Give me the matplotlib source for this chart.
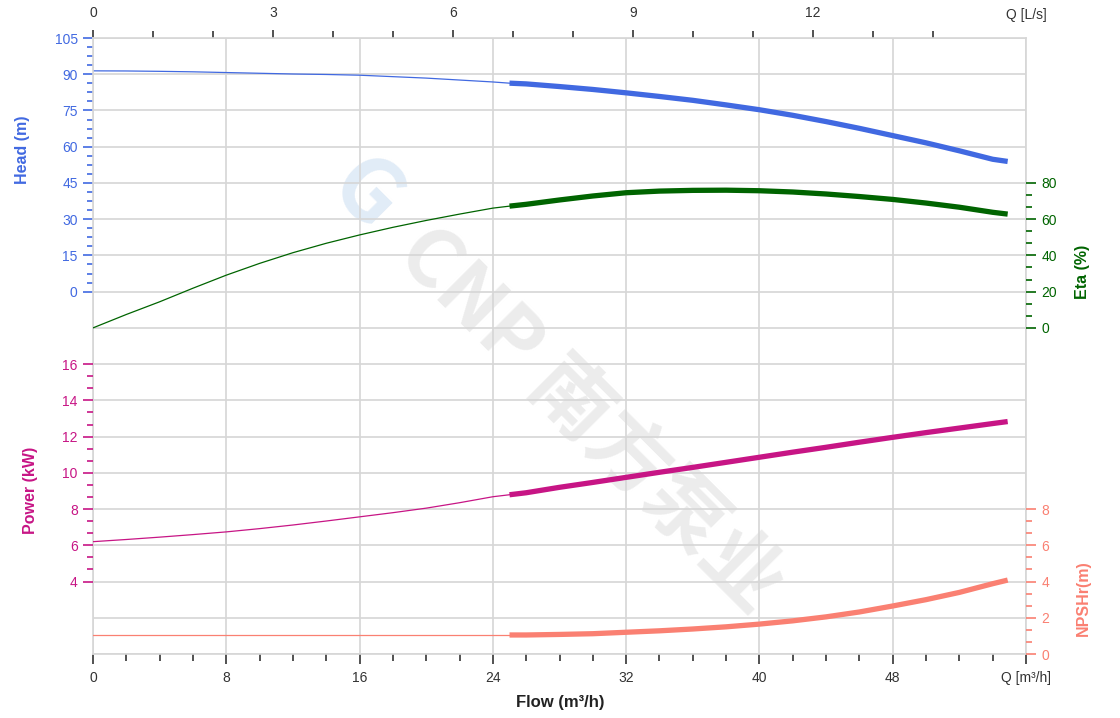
import numpy as np
import matplotlib
matplotlib.use("Agg")
import matplotlib.pyplot as plt

plt.rcParams["font.family"] = ["Liberation Sans", "DejaVu Sans"]

# data (flow in m3/h)
flow = [0, 2, 4, 6, 8, 10, 12, 14, 16, 18, 20, 22, 24, 25, 26, 28, 30,
        32, 34, 36, 38, 40, 42, 44, 46, 48, 50, 52, 54, 54.9]
head = [91.4, 91.35, 91.2, 91.0, 90.7, 90.4, 90.1, 89.9, 89.6, 89.0, 88.4, 87.6, 86.8, 86.3, 86.0, 84.9, 83.7,
        82.3, 80.8, 79.2, 77.3, 75.3, 73.0, 70.4, 67.6, 64.6, 61.6, 58.3, 54.8, 53.9]
eta = [0, 7.4, 14.4, 21.9, 29.1, 35.6, 41.5, 46.7, 51.3, 55.5, 59.3, 62.8, 66.1, 67.2, 68.2, 70.6, 72.8,
       74.6, 75.5, 75.9, 76.0, 75.7, 75.0, 73.9, 72.5, 70.9, 68.9, 66.6, 63.8, 62.8]
power = [6.2, 6.32, 6.45, 6.59, 6.74, 6.92, 7.12, 7.34, 7.57, 7.8, 8.05, 8.35, 8.68, 8.79, 8.9, 9.2, 9.47,
         9.75, 10.03, 10.3, 10.58, 10.86, 11.14, 11.41, 11.69, 11.96, 12.22, 12.47, 12.72, 12.83]
npsh = [1.05, 1.05, 1.05, 1.05, 1.05, 1.05, 1.05, 1.05, 1.05, 1.05, 1.05, 1.05, 1.05, 1.05, 1.05, 1.08, 1.12,
        1.2, 1.28, 1.38, 1.5, 1.65, 1.83, 2.05, 2.32, 2.65, 3.0, 3.4, 3.88, 4.08]
duty_start = 25

flow_ticks = [0, 8, 16, 24, 32, 40, 48, 56]
flow_labels = ["0", "8", "16", "24", "32", "40", "48", "Q [m³/h]"]
ls_ticks = [0, 3, 6, 9, 12]

HEAD_C = "#4169E1"
ETA_C = "#006400"
POWER_C = "#C71585"
NPSH_C = "#FA8072"
GRID_C = "#d6d6d6"

W, H = 1120, 718
fig = plt.figure(figsize=(W / 100, H / 100), dpi=100)
ax = fig.add_axes([93 / W, 1 - 654 / H, (1026 - 93) / W, (654 - 38) / H])
ax.patch.set_visible(False)

q = np.array(flow)
thin = q <= duty_start
thick = q >= duty_start


def draw_curve(a, values, color):
    v = np.array(values)
    a.plot(q[thin], v[thin], color=color, lw=0.9, solid_joinstyle="round")
    a.plot(q[thick], v[thick], color=color, lw=3.8, solid_capstyle="butt",
           solid_joinstyle="round")


def style_y(a, color, major, minor, side):
    a.set_yticks(major)
    a.set_yticks(minor, minor=True)
    a.tick_params(axis="y", which="both", direction="out", colors=color,
                  labelsize=10, pad=4, width=1.2)
    a.tick_params(axis="y", which="major", length=7)
    a.tick_params(axis="y", which="minor", length=4)
    if side == "left":
        a.yaxis.set_ticks_position("left")
    else:
        a.yaxis.set_ticks_position("right")


# main axes: head
ax.set_xlim(0, 56)
ax.set_ylim(-150, 105)
for v in np.arange(-150, 106, 15):
    ax.axhline(v, color=GRID_C, lw=1.2, zorder=0)
ax.set_xticks(flow_ticks)
ax.set_xticklabels(flow_labels)
ax.set_xticks(np.arange(0, 57, 2), minor=True)
ax.grid(axis="x", color=GRID_C, lw=1.2, zorder=0)
ax.tick_params(axis="x", which="both", direction="out", colors="#333333",
               labelsize=10, width=1.2, pad=5)
ax.tick_params(axis="x", which="major", length=7)
ax.tick_params(axis="x", which="minor", length=5)
for s in ax.spines.values():
    s.set_color(GRID_C)
    s.set_linewidth(1.2)
style_y(ax, HEAD_C, np.arange(0, 106, 15), np.arange(0, 106, 3.75), "left")
draw_curve(ax, head, HEAD_C)

# top axis in L/s
top = ax.secondary_xaxis("top", functions=(lambda x: x / 3.6, lambda x: x * 3.6))
top.set_xticks(ls_ticks)
top.set_xticks(np.arange(0, 15, 1), minor=True)
top.tick_params(axis="x", which="both", direction="out", colors="#333333",
                labelsize=10, width=1.2, pad=7)
top.tick_params(axis="x", which="major", length=6)
top.tick_params(axis="x", which="minor", length=5)
top.spines["top"].set_visible(False)
ax.text(1.0, 1.0 + 16 / 616, "Q [L/s]", transform=ax.transAxes, ha="center",
        va="bottom", fontsize=10, color="#333333")

# eta
ax_e = ax.twinx()
ax_e.set_ylim(-180, 160)
style_y(ax_e, ETA_C, np.arange(0, 81, 20), np.arange(0, 80.1, 20 / 3), "right")
draw_curve(ax_e, eta, ETA_C)

# npsh
ax_n = ax.twinx()
ax_n.set_ylim(0, 34)
style_y(ax_n, NPSH_C, np.arange(0, 9, 2), np.arange(0, 8.01, 2 / 3), "right")
draw_curve(ax_n, npsh, NPSH_C)

# power
ax_p = ax.twinx()
ax_p.set_ylim(0, 34)
style_y(ax_p, POWER_C, np.arange(4, 17, 2), np.arange(4, 16.01, 2 / 3), "left")
draw_curve(ax_p, power, POWER_C)

for a in (ax_e, ax_n, ax_p):
    for s in a.spines.values():
        s.set_visible(False)

# axis titles
fig.text(23 / W, 1 - 150 / H, "Head (m)", rotation=90, ha="center", va="center",
         fontsize=11.5, fontweight="bold", color=HEAD_C)
fig.text(30 / W, 1 - 490 / H, "Power (kW)", rotation=90, ha="center", va="center",
         fontsize=11.5, fontweight="bold", color=POWER_C)
fig.text(1083 / W, 1 - 272 / H, "Eta (%)", rotation=90, ha="center", va="center",
         fontsize=11.5, fontweight="bold", color=ETA_C)
fig.text(1083 / W, 1 - 598 / H, "NPSHr(m)", rotation=90, ha="center", va="center",
         fontsize=11.5, fontweight="bold", color=NPSH_C)
fig.text(560 / W, 1 - 703 / H, "Flow (m³/h)", ha="center", va="center",
         fontsize=12, fontweight="bold", color="#222222")

# watermark
wm_font = ["Noto Sans CJK SC", "DejaVu Sans"]
fig.text(365 / W, 1 - 195 / H, "G", rotation=-45, ha="center", va="center",
         fontsize=62, fontweight="bold", color="#e1ecf7", zorder=-1, family=wm_font)
fig.text(590 / W, 1 - 420 / H, "CNP 南方泵业", rotation=-45, ha="center", va="center",
         fontsize=58, fontweight="bold", color="#ececec", zorder=-1, family=wm_font)

fig.savefig("out.png", dpi=100)
